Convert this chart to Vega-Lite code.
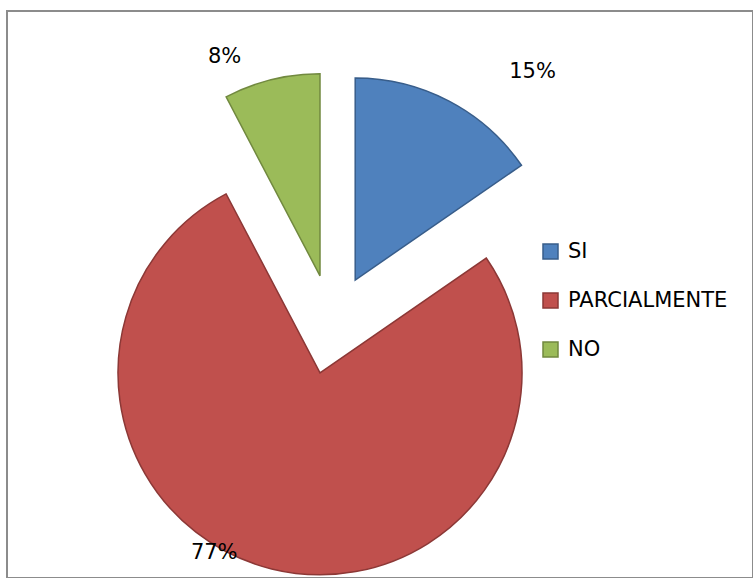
{
  "$schema": "https://vega.github.io/schema/vega-lite/v6.json",
  "width": 746,
  "height": 567,
  "autosize": "none",
  "padding": {"left": 7, "top": 11, "right": 0, "bottom": 0},
  "background": "white",
  "view": {"stroke": "#8c8c8c", "strokeWidth": 2},
  "config": {
    "view": {"stroke": "#8c8c8c", "strokeWidth": 2},
    "font": "DejaVu Sans"
  },
  "data": {
    "values": [
      {"category": "SI", "count": 2, "label": "15%"},
      {"category": "PARCIALMENTE", "count": 10, "label": "77%"},
      {"category": "NO", "count": 1, "label": "8%"}
    ]
  },
  "encoding": {
    "theta": {"field": "count", "type": "quantitative", "stack": true},
    "order": {"field": "category", "type": "nominal", "sort": "descending"},
    "fill": {
      "field": "category",
      "type": "nominal",
      "scale": {"domain": ["SI", "PARCIALMENTE", "NO"], "range": ["#4F81BD", "#C0504D", "#9BBB59"]},
      "legend": {
        "title": null,
        "orient": "none",
        "legendX": 533,
        "legendY": 230,
        "padding": 0,
        "labelFont": "DejaVu Sans",
        "labelFontSize": 21,
        "labelColor": "#000000",
        "labelOffset": 7,
        "symbolType": "square",
        "symbolSize": 225,
        "symbolStrokeWidth": 1.5,
        "rowPadding": 27
      }
    },
    "stroke": {
      "field": "category",
      "type": "nominal",
      "scale": {"domain": ["SI", "PARCIALMENTE", "NO"], "range": ["#385D8A", "#8C3836", "#71893F"]},
      "legend": {
        "title": null,
        "orient": "none",
        "legendX": 533,
        "legendY": 230,
        "padding": 0,
        "labelFont": "DejaVu Sans",
        "labelFontSize": 21,
        "labelColor": "#000000",
        "labelOffset": 7,
        "symbolType": "square",
        "symbolSize": 225,
        "symbolStrokeWidth": 1.5,
        "rowPadding": 27
      }
    }
  },
  "layer": [
    {
      "mark": {"type": "arc", "outerRadius": 202, "strokeWidth": 1.5, "xOffset": -24.8, "yOffset": -14.5},
      "encoding": {"opacity": {"condition": {"test": "datum.category === 'SI'", "value": 1}, "value": 0}}
    },
    {
      "mark": {"type": "arc", "outerRadius": 202, "strokeWidth": 1.5, "xOffset": -60, "yOffset": 78.3},
      "encoding": {"opacity": {"condition": {"test": "datum.category === 'PARCIALMENTE'", "value": 1}, "value": 0}}
    },
    {
      "mark": {"type": "arc", "outerRadius": 202, "strokeWidth": 1.5, "xOffset": -60, "yOffset": -18.7},
      "encoding": {"opacity": {"condition": {"test": "datum.category === 'NO'", "value": 1}, "value": 0}}
    },
    {
      "mark": {"type": "text", "radius": 273.5, "thetaOffset": 0.222, "xOffset": -24.8, "yOffset": -14.5, "fontSize": 21, "font": "DejaVu Sans", "align": "center", "baseline": "middle"},
      "encoding": {
        "text": {"field": "label"},
        "fill": {"value": "#000000"},
        "stroke": {"value": null},
        "opacity": {"condition": {"test": "datum.category === 'SI'", "value": 1}, "value": 0}
      }
    },
    {
      "mark": {"type": "text", "radius": 209, "thetaOffset": 0.289, "xOffset": -60, "yOffset": 78.3, "fontSize": 21, "font": "DejaVu Sans", "align": "center", "baseline": "middle"},
      "encoding": {
        "text": {"field": "label"},
        "fill": {"value": "#000000"},
        "stroke": {"value": null},
        "opacity": {"condition": {"test": "datum.category === 'PARCIALMENTE'", "value": 1}, "value": 0}
      }
    },
    {
      "mark": {"type": "text", "radius": 238.4, "thetaOffset": -0.17, "xOffset": -60, "yOffset": -18.7, "fontSize": 21, "font": "DejaVu Sans", "align": "center", "baseline": "middle"},
      "encoding": {
        "text": {"field": "label"},
        "fill": {"value": "#000000"},
        "stroke": {"value": null},
        "opacity": {"condition": {"test": "datum.category === 'NO'", "value": 1}, "value": 0}
      }
    }
  ]
}
